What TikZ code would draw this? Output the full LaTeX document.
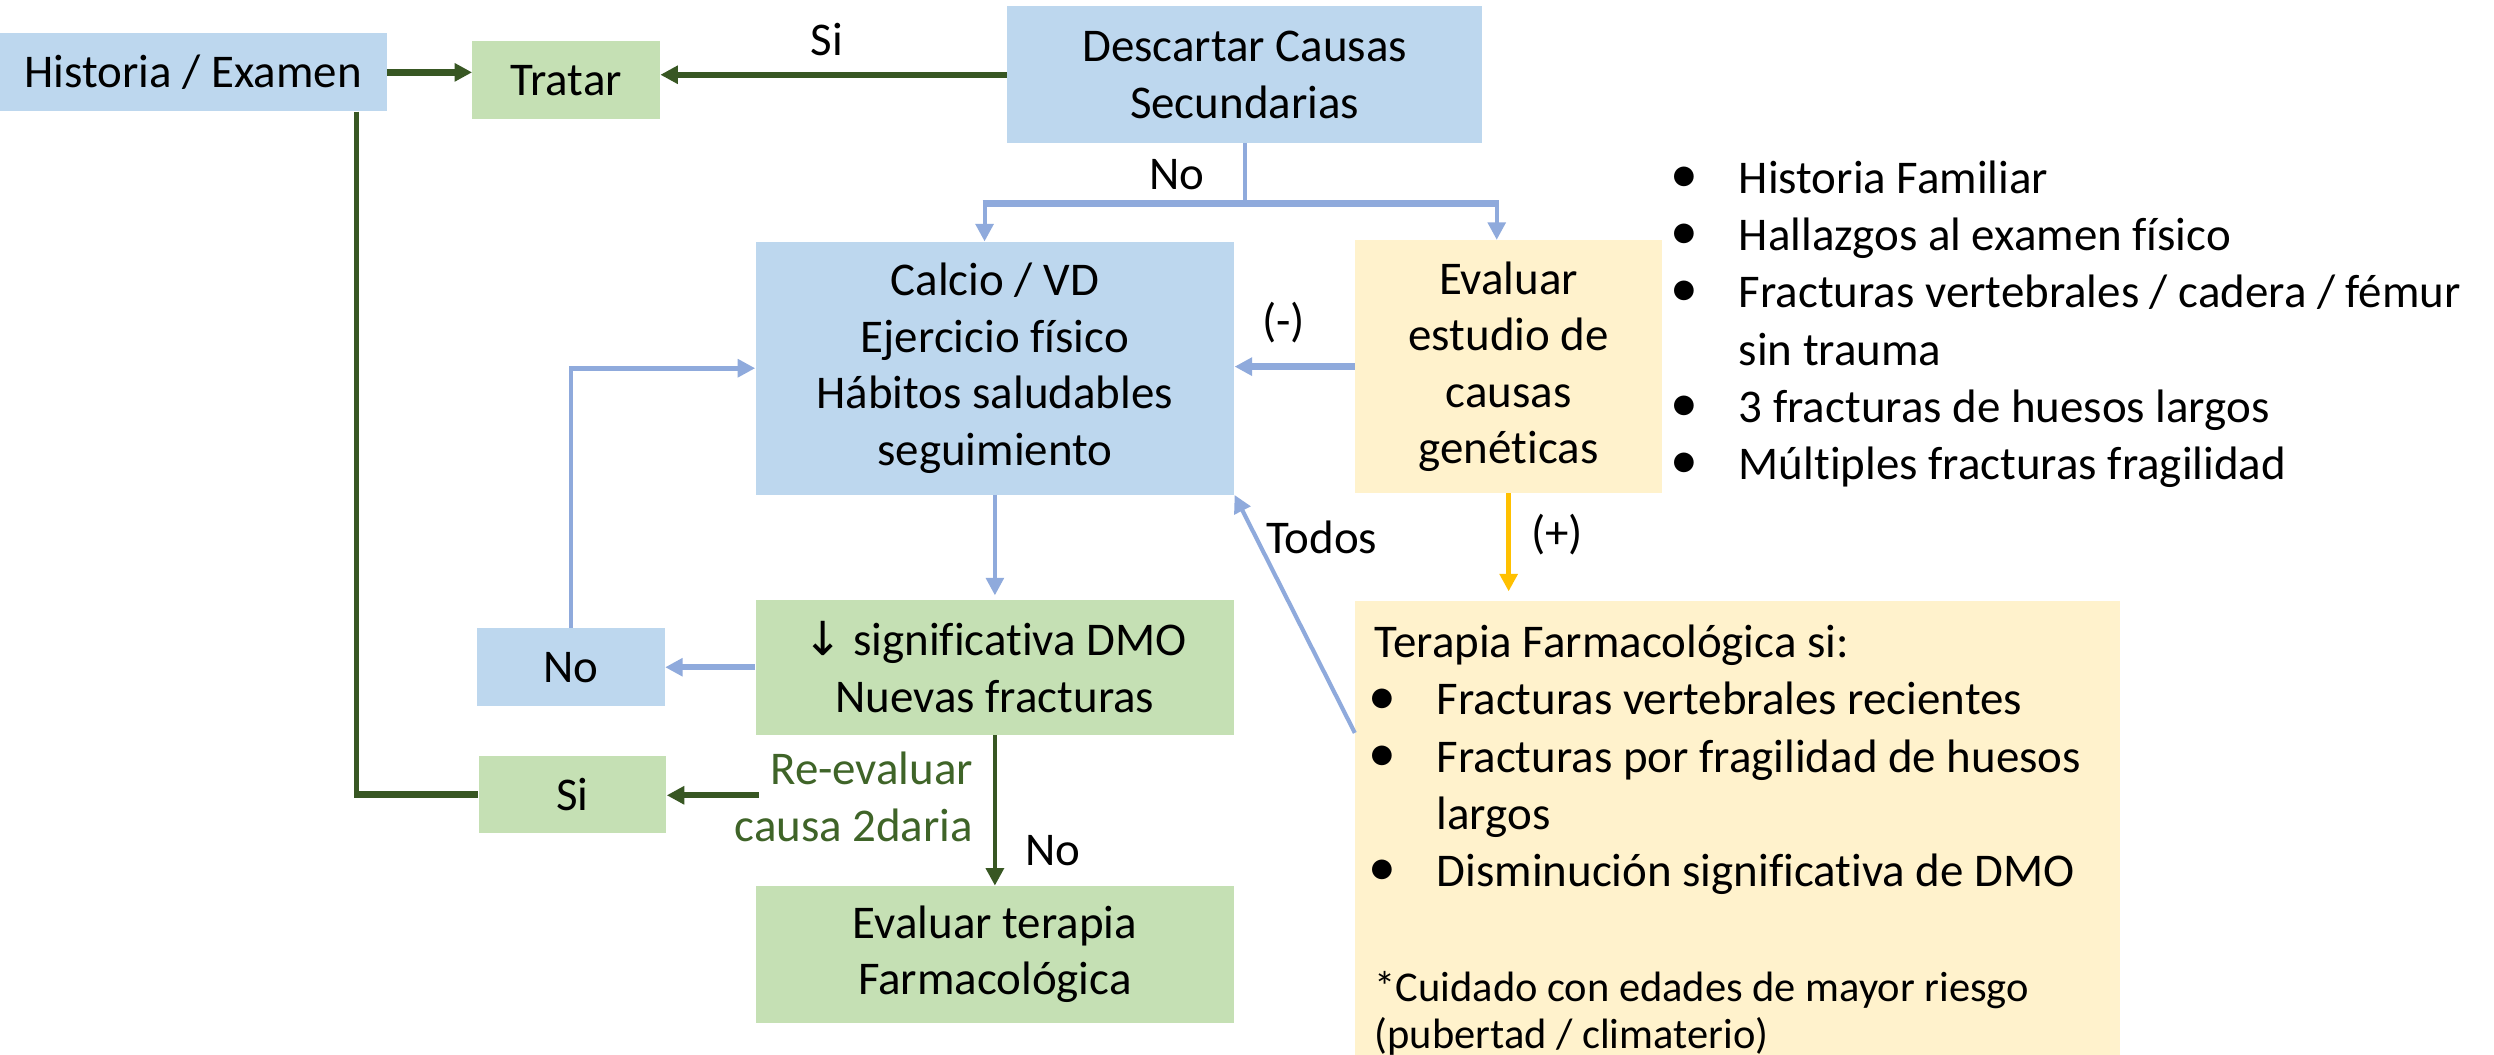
\documentclass[tikz,border=0pt]{standalone}
\usepackage{fontspec}
\setmainfont[Ligatures=NoCommon]{Carlito}
\newfontfamily\arrowfont{DejaVu Sans}
\usetikzlibrary{arrows.meta}
\definecolor{bxblue}{HTML}{BDD7EE}
\definecolor{bxgreen}{HTML}{C5E0B4}
\definecolor{bxyellow}{HTML}{FFF2CC}
\definecolor{lnblue}{HTML}{8FAADC}
\definecolor{dkgreen}{HTML}{385723}
\definecolor{txgreen}{HTML}{3F6428}
\definecolor{lnyellow}{HTML}{FFC000}
\begin{document}
\begin{tikzpicture}[x=1pt,y=-1pt,
  font=\fontsize{29.5}{35.5}\selectfont,
  box/.style={rectangle, inner sep=0pt, align=center},
  sz/.style 2 args={minimum width=#1pt, minimum height=#2pt},
  bluebox/.style={box, fill=bxblue},
  greenbox/.style={box, fill=bxgreen},
  yellowbox/.style={box, fill=bxyellow},
  tip/.style={-{Triangle[length=11pt,width=11pt]}},
  bthick/.style={draw=lnblue, line width=4pt},
  bthin/.style={draw=lnblue, line width=2.6pt},
  gthick/.style={draw=dkgreen, line width=4pt},
  gthin/.style={draw=dkgreen, line width=2.8pt},
  ythin/.style={draw=lnyellow, line width=3pt},
  lbl/.style={inner sep=0pt},
  item/.style={anchor=base west, inner sep=0pt},
  dot/.style={anchor=base, inner sep=0pt, font=\fontsize{35}{35}\selectfont, yshift=0.5pt},
  note/.style={anchor=base west, inner sep=0pt, font=\fontsize{26.7}{31}\selectfont}
]
\fill[white] (0,0) rectangle (1568,663);
\useasboundingbox (0,0) rectangle (1568,663);

% boxes
\node[bluebox, sz={243}{49}] (hist) at (121.5,45.5) {Historia / Examen};
\node[greenbox, sz={118}{49}] (tratar) at (356,50.5) {Tratar};
\node[bluebox, sz={299}{86}] (desc) at (782.5,47) {Descartar Causas\\Secundarias};
\node[bluebox, sz={301}{159}] (calcio) at (625.5,231.5) {Calcio / VD\\Ejercicio físico\\Hábitos saludables\\seguimiento};
\node[yellowbox, sz={193}{159}] (eval) at (948.5,230.5) {Evaluar\\estudio de\\causas\\genéticas};
\node[greenbox, sz={301}{85}] (dmo) at (625.5,419.5) {{\arrowfont ↓} significativa DMO\\Nuevas fracturas};
\node[bluebox, sz={118}{49}] (no) at (359,419.5) {No};
\node[greenbox, sz={118}{49}] (si) at (360,499.5) {Si};
\node[greenbox, sz={301}{86}] (evter) at (625.5,600) {Evaluar terapia\\Farmacológica};
\node[yellowbox, sz={481}{300}] (terapia) at (1092.5,528) {};

% terapia text
\node[item] (th) at (864,413.5) {Terapia Farmacológica si:};
\node[dot] (tb1) at (869,449.5) {•};
\node[item] (tt1) at (903,449.5) {Fracturas vertebrales recientes};
\node[dot] (tb2) at (869,485.5) {•};
\node[item] (tt2) at (903,485.5) {Fracturas por fragilidad de huesos};
\node[item] (tt2b) at (903,521.5) {largos};
\node[dot] (tb3) at (869,557.5) {•};
\node[item] (tt3) at (903,557.5) {Disminución significativa de DMO};
\node[note] (tn1) at (864,629.5) {*Cuidado con edades de mayor riesgo};
\node[note] (tn2) at (864,659.5) {(pubertad / climaterio)};

% right list
\node[dot] (rb1) at (1059,121.5) {•};
\node[item] (rt1) at (1093,121.5) {Historia Familiar};
\node[dot] (rb2) at (1059,157.5) {•};
\node[item] (rt2) at (1093,157.5) {Hallazgos al examen físico};
\node[dot] (rb3) at (1059,193.5) {•};
\node[item] (rt3) at (1093,193.5) {Fracturas vertebrales / cadera / fémur};
\node[item] (rt3b) at (1093,229.5) {sin trauma};
\node[dot] (rb4) at (1059,265.5) {•};
\node[item] (rt4) at (1093,265.5) {3 fracturas de huesos largos};
\node[dot] (rb5) at (1059,301.5) {•};
\node[item] (rt5) at (1093,301.5) {Múltiples fracturas fragilidad};

% labels
\node[lbl] (lsi) at (520,25) {Si};
\node[lbl] (lno) at (740,110) {No};
\node[lbl] (lneg) at (807,203) {(-)};
\node[lbl] (ltodos) at (831,338) {Todos};
\node[lbl] (lpos) at (979,336) {(+)};
\node[lbl] (lno2) at (662,535) {No};
\node[lbl, anchor=east, align=right, text=txgreen] (lre) at (612,501) {Re-evaluar\\causa 2daria};

% coordinates
\coordinate (sl) at (619,128);
\coordinate (sr) at (941,128);
\coordinate (re) at (477,500);
\coordinate (hs) at ([xshift=102.5pt]hist.south);
\coordinate (ts) at ([yshift=-83pt]terapia.north west);

% connectors
\draw[gthick,tip] (hist.east) -- (hist.east -| tratar.west);
\draw[gthick,tip] (desc.west) -- (desc.west -| tratar.east);
\draw[bthin] (desc.south) -- (desc.south |- sl);
\draw[bthick] ([xshift=-1.3pt]sl) -- ([xshift=1.3pt]sr);
\draw[bthin,tip] (sl) -- (sl |- calcio.north);
\draw[bthin,tip] (sr) -- (sr |- eval.north);
\draw[bthick,tip] (eval.west) -- (eval.west -| calcio.east);
\draw[bthin,tip] (calcio.south) -- ([yshift=2.5pt]dmo.north);
\draw[bthick,tip] (dmo.west) -- (dmo.west -| no.east);
\draw[draw=lnblue, line width=3pt, tip] (no.north) |- (calcio.west);
\draw[gthick,tip] (re) -- (re -| si.east);
\draw[gthin,tip] (dmo.south) -- (evter.north);
\draw[gthin] (hs) -- (hs |- si.west);
\draw[gthick] ([xshift=-1.4pt]hs |- si.west) -- (si.west);
\draw[ythin,tip,shorten >=6pt] (eval.south) -- (eval.south |- terapia.north);
\draw[bthin,tip] (ts) -- (calcio.south east);
\end{tikzpicture}
\end{document}
